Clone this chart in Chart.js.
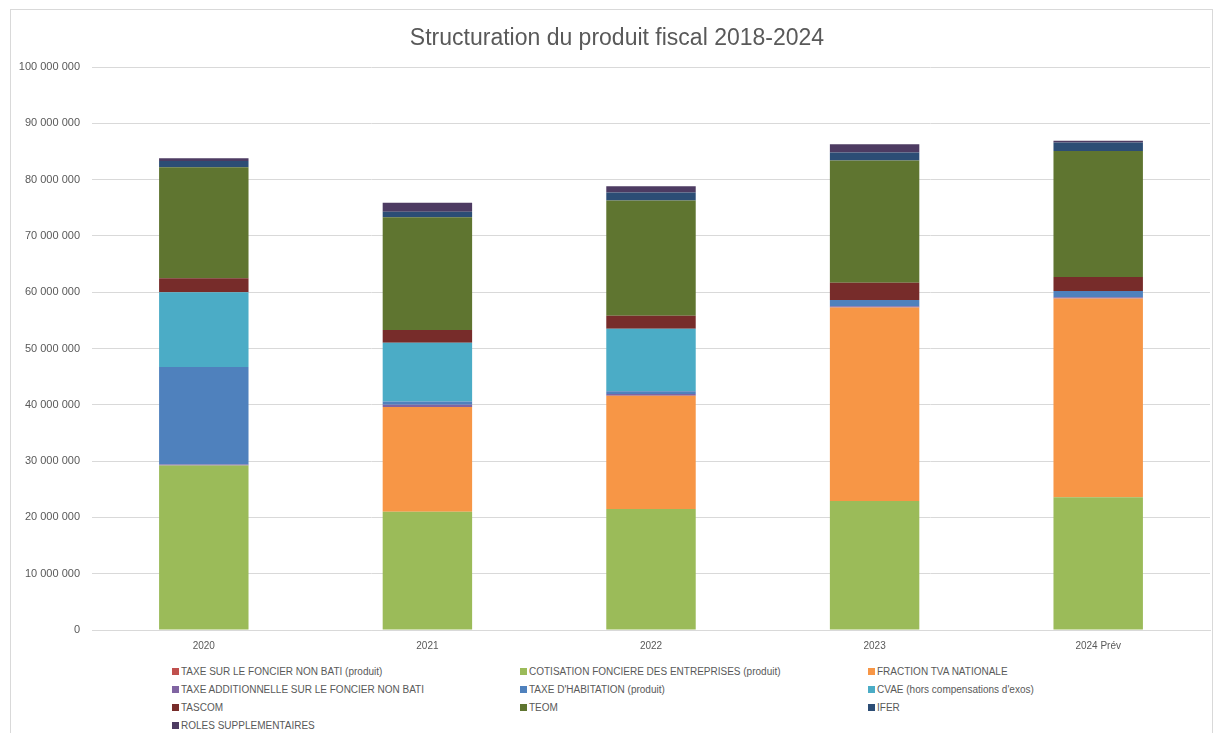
<!DOCTYPE html>
<html>
<head>
<meta charset="utf-8">
<script src="https://cdn.jsdelivr.net/npm/chart.js@4/dist/chart.umd.min.js"></script>
<style>
  body { margin: 0; background: #fff; }
  #wrap { position: relative; width: 1220px; height: 733px; overflow: hidden; }
  #frame { position: absolute; left: 10px; top: 9px; width: 1201px; height: 740px; border: 1px solid #d9d9d9; pointer-events: none; }
  #fiscalChart { position: absolute; left: 0; top: 0; }
  #title { position: absolute; left: 0; top: 23px; width: 1234px; text-align: center; line-height: 28px;
           font-family: "Liberation Sans", sans-serif; font-size: 23px; color: #595959; }
  #legend { position: absolute; left: 172px; top: 662px; width: 1040px;
            display: grid; grid-template-columns: 348px 348px 340px; grid-auto-rows: 18px;
            font-family: "Liberation Sans", sans-serif; font-size: 10px; color: #595959; }
  #legend span.item { display: flex; align-items: center; white-space: nowrap; }
  #legend i { display: inline-block; width: 7px; height: 7px; margin-right: 2px; }
</style>
</head>
<body>
<div id="wrap">
  <canvas id="fiscalChart" width="1220" height="660"></canvas>
  <div id="title">Structuration du produit fiscal 2018-2024</div>
  <div id="legend"></div>
  <div id="frame"></div>
</div>
<script>
// Data (euros)
const years = ['2020', '2021', '2022', '2023', '2024 Prév'];
const foncierNonBati = [100000, 100000, 100000, 100000, 100000];
const cfe = [29100000, 20900000, 21400000, 22800000, 23500000];
const fractionTva = [0, 18600000, 20100000, 34400000, 35300000];
const taxeAdditionnelle = [200000, 400000, 300000, 200000, 200000];
const taxeHabitation = [17300000, 600000, 500000, 1100000, 1100000];
const cvae = [13300000, 10400000, 11100000, 0, 0];
const tascom = [2500000, 2300000, 2300000, 3100000, 2500000];
const teom = [19700000, 20000000, 20500000, 21700000, 22400000];
const ifer = [1100000, 1000000, 1400000, 1400000, 1500000];
const roles = [500000, 1600000, 1100000, 1500000, 300000];
const yTicks = [0, 10000000, 20000000, 30000000, 40000000, 50000000, 60000000, 70000000, 80000000, 90000000, 100000000];

const series = [
    { label: 'TAXE SUR LE FONCIER NON BATI (produit)', data: foncierNonBati, color: '#c0504d' },
    { label: 'COTISATION FONCIERE DES ENTREPRISES (produit)', data: cfe, color: '#9bbb59' },
    { label: 'FRACTION TVA NATIONALE', data: fractionTva, color: '#f79646' },
    { label: 'TAXE ADDITIONNELLE SUR LE FONCIER NON BATI', data: taxeAdditionnelle, color: '#8064a2' },
    { label: "TAXE D'HABITATION (produit)", data: taxeHabitation, color: '#4f81bd' },
    { label: "CVAE (hors compensations d'exos)", data: cvae, color: '#4bacc6' },
    { label: 'TASCOM', data: tascom, color: '#772c2a' },
    { label: 'TEOM', data: teom, color: '#5f7530' },
    { label: 'IFER', data: ifer, color: '#2c4d75' },
    { label: 'ROLES SUPPLEMENTAIRES', data: roles, color: '#4d3b62' }
];

function fmt(v) {
    return String(v).replace(/\B(?=(\d{3})+(?!\d))/g, ' ');
}

const chart = new Chart(document.getElementById('fiscalChart'), {
    type: 'bar',
    data: {
        labels: years,
        datasets: series.map(s => ({
            label: s.label,
            data: s.data,
            backgroundColor: s.color,
            borderWidth: 0,
            barPercentage: 1,
            categoryPercentage: 0.4
        }))
    },
    options: {
        responsive: false,
        animation: false,
        layout: { padding: { left: 10, right: 10, top: 67, bottom: 0 } },
        plugins: {
            legend: { display: false },
            tooltip: { enabled: false },
            title: { display: false }
        },
        scales: {
            x: {
                stacked: true,
                grid: { display: false, drawTicks: false },
                border: { color: '#d9d9d9' },
                ticks: { color: '#595959', font: { family: 'Liberation Sans', size: 10 }, padding: 10 },
                afterFit: s => { s.height = 30; }
            },
            y: {
                stacked: true,
                min: 0,
                max: 100000000,
                afterBuildTicks: s => { s.ticks = yTicks.map(v => ({ value: v })); },
                grid: { color: '#d9d9d9', drawTicks: false },
                border: { display: false },
                ticks: { color: '#595959', font: { family: 'Liberation Sans', size: 11 }, padding: 12,
                         callback: v => fmt(v) },
                afterFit: s => { s.width = 82; }
            }
        }
    }
});

// HTML legend, 3 columns like the original
const legend = document.getElementById('legend');
chart.data.datasets.forEach(ds => {
    const item = document.createElement('span');
    item.className = 'item';
    item.innerHTML = '<i style="background:' + ds.backgroundColor + '"></i>' + ds.label;
    legend.appendChild(item);
});
</script>
</body>
</html>
